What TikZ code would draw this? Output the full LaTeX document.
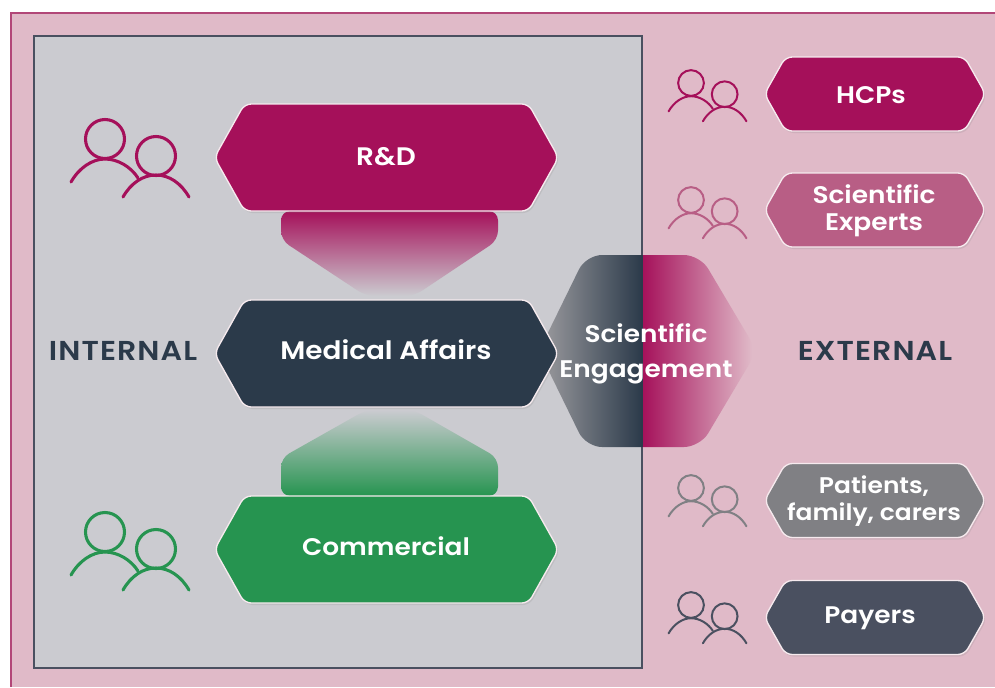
\documentclass[tikz,border=0pt]{standalone}
\usepackage{fontspec}
\setmainfont{Poppins}[BoldFont={Poppins SemiBold},FakeStretch=1.1]
\usetikzlibrary{shadows}

\definecolor{berry}{RGB}{165,16,90}
\definecolor{rose}{RGB}{184,94,133}
\definecolor{slate}{RGB}{43,58,74}
\definecolor{leaf}{RGB}{38,148,80}
\definecolor{stone}{RGB}{128,128,132}
\definecolor{steel}{RGB}{74,80,96}
\definecolor{blush}{RGB}{224,186,200}
\definecolor{mist}{RGB}{203,203,208}

\tikzset{every picture/.style={line width=0.75pt}}
\tikzset{
  hexbox/.style={draw=white!70!blush,line width=1pt,rounded corners=5pt,
    drop shadow={shadow xshift=1pt,shadow yshift=-1.5pt,opacity=0.18}},
  biglabel/.style={white,font=\bfseries\fontsize{19}{26}\selectfont,align=center,inner sep=0pt},
  midlabel/.style={white,font=\bfseries\fontsize{18}{26}\selectfont,align=center,inner sep=0pt},
  smalllabel/.style={white,font=\bfseries\fontsize{18}{20}\selectfont,align=center,inner sep=0pt},
  sidelabel/.style={slate,font=\bfseries\fontsize{20.5}{20}\selectfont\addfontfeature{LetterSpace=4},inner sep=0pt},
  person/.style={line cap=round}
}

% centre x, centre y, half width, half height, slant, colour
\newcommand{\hexpanel}[6]{
  \draw [hexbox,fill=#6] ({#1-#3},#2) -- ({#1-#3+#5},{#2-#4}) -- ({#1+#3-#5},{#2-#4})
    -- ({#1+#3},#2) -- ({#1+#3-#5},{#2+#4}) -- ({#1-#3+#5},{#2+#4}) -- cycle ;
}
% x, y of the first head, scale, line width, colour
\newcommand{\people}[5]{
  \begin{scope}[shift={(#1,#2)},scale=#3,draw=#5,person,line width=#4]
    \draw (0,0) circle [radius=19.5] ;
    \draw (51,17) circle [radius=19.5] ;
    \draw (-34,43) .. controls (-26,29) and (-13,20) .. (0,20) .. controls (13,20) and (26,28) .. (33,39) ;
    \draw (18,58) .. controls (26,44) and (38,36) .. (51,36) .. controls (64,36) and (76,44) .. (84,58) ;
  \end{scope}
}

\begin{document}
\begin{tikzpicture}[x=0.75pt,y=0.75pt,yscale=-1,xscale=1]
\useasboundingbox (0,0) rectangle (995,687);
\clip (0,0) rectangle (995,687);

%Panels
\fill [blush] (11,13) rectangle (995,687) ;
\draw [draw=rose!70!berry,line width=1.5pt] (11,687) -- (11,13) -- (995,13) ;
\draw [draw=steel,line width=1.5pt,fill=mist] (34,36) rectangle (642,668) ;

%Funnels
\shade [top color=berry,bottom color=mist,rounded corners=7pt] (281,211) -- (281,240) -- (366,296) -- (414,296) -- (498,240) -- (498,211) -- cycle ;
\shade [bottom color=leaf,top color=mist,rounded corners=7pt] (281,496) -- (281,458) -- (366,410) -- (414,410) -- (498,458) -- (498,496) -- cycle ;

%Engagement hexagon
\begin{scope}
  \clip [rounded corners=12pt] (539,351) -- (586,255) -- (700,255) -- (757,351) -- (700,447) -- (586,447) -- cycle ;
  \shade [left color=stone!70!mist,right color=slate] (545,255) rectangle (642,447) ;
  \shade [left color=berry,right color=blush] (642,255) rectangle (752,447) ;
\end{scope}
\draw [draw=slate,line width=1.5pt] (642,255) -- (642,447) ;

%Internal panels
\hexpanel{386.5}{157.5}{172}{53.5}{30}{berry}
\hexpanel{386.5}{353.5}{172}{53.5}{30}{slate}
\hexpanel{386.5}{549.5}{172}{53.5}{30}{leaf}

%External panels
\hexpanel{875}{94}{110.5}{37}{21}{berry}
\hexpanel{875}{210}{110.5}{37}{21}{rose}
\hexpanel{875}{500.5}{110.5}{37}{21}{stone}
\hexpanel{875}{617.5}{110.5}{37}{21}{steel}

%Icons
\people{105}{139}{1}{2.3pt}{berry}
\people{105}{532}{1}{2.3pt}{leaf}
\people{691}{83}{0.66}{1.5pt}{berry}
\people{691}{200}{0.66}{1.5pt}{rose}
\people{691}{488}{0.66}{1.5pt}{stone}
\people{691}{605}{0.66}{1.5pt}{steel}

% Text Node
\node [biglabel,anchor=base] (rd) at (386,165) {R\&D};
\node [biglabel,anchor=base] (medical) at (386,359) {Medical Affairs};
\node [midlabel,anchor=base] (commercial) at (386,555) {Commercial};
\node [midlabel] (engagement) at (646,354) {Scientific\\Engagement};
\node [sidelabel,anchor=base] (internal) at (123,360) {INTERNAL};
\node [sidelabel,anchor=base] (external) at (875,360) {EXTERNAL};
\node [smalllabel,anchor=base] (hcps) at (871,103) {HCPs};
\node [smalllabel] (experts) at (874,211) {Scientific\\Experts};
\node [smalllabel,font=\bfseries\fontsize{17}{20}\selectfont] (patients) at (874,501) {Patients,\\family, carers};
\node [smalllabel,anchor=base] (payers) at (870,623) {Payers};

\end{tikzpicture}
\end{document}
